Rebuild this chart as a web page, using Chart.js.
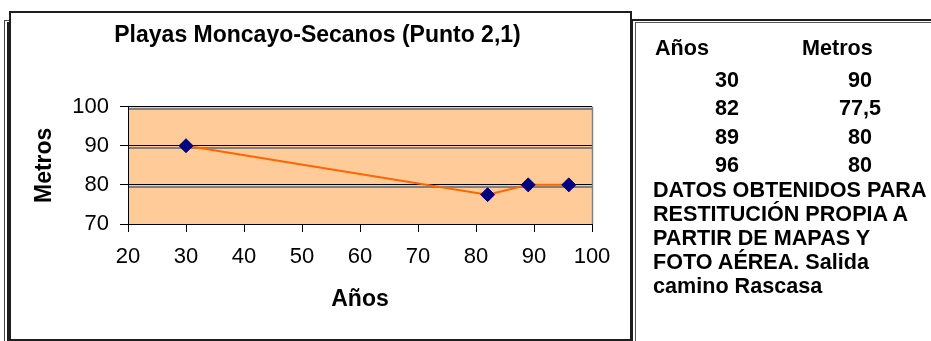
<!DOCTYPE html>
<html>
<head>
<meta charset="utf-8">
<script src="https://cdn.jsdelivr.net/npm/chart.js@4/dist/chart.umd.min.js"></script>
<style>
  html, body { margin: 0; padding: 0; background: #fff; }
  #wrap { position: relative; width: 931px; height: 341px; overflow: hidden; font-family: 'Liberation Sans', Arial, sans-serif; }
  #c { position: absolute; left: 0; top: 0; }
  .ln { position: absolute; background: #1e1e1e; }
  .frame { position: absolute; box-sizing: border-box; border: 2px solid #1e1e1e; }
  .t { position: absolute; font-weight: bold; font-size: 21.6px; line-height: 24px; color: #000; white-space: nowrap; }
</style>
</head>
<body>
<div id="wrap">
  <canvas id="c" width="931" height="341"></canvas>
  <!-- left cell border (double line) -->
  <div class="ln" style="left:4px;top:20px;width:1px;height:321px;background:#444"></div>
  <div class="ln" style="left:7px;top:22px;width:2px;height:319px"></div>
  <div class="ln" style="left:4px;top:20px;width:6px;height:1px;background:#444"></div>
  <!-- chart frame -->
  <div class="frame" style="left:9px;top:11px;width:623px;height:330px"></div>
  <!-- notes panel border (double line) -->
  <div class="ln" style="left:631px;top:19px;width:300px;height:2px"></div>
  <div class="ln" style="left:631px;top:19px;width:2px;height:322px"></div>
  <div class="ln" style="left:635px;top:22px;width:296px;height:1px;background:#555"></div>
  <div class="ln" style="left:635px;top:22px;width:1px;height:319px;background:#555"></div>
</div>
<script>
// Survey points: year (two digits) and shoreline distance in metres
const years  = [30, 82, 89, 96];
const metros = [90, 77.5, 80, 80];

// Axis ticks
const xTicks = [20, 30, 40, 50, 60, 70, 80, 90, 100];
const yTicks = [70, 80, 90, 100];

// Texts
const titleText = 'Playas Moncayo-Secanos (Punto 2,1)';
const xTitle = 'Años';
const yTitle = 'Metros';
const colHeads = ['Años', 'Metros'];
const noteLines = [
  'DATOS OBTENIDOS PARA',
  'RESTITUCIÓN PROPIA A',
  'PARTIR DE MAPAS Y',
  'FOTO AÉREA. Salida',
  'camino Rascasa'
];

const FONT = "'Liberation Sans', Arial, sans-serif";

// Orange plot background, grid shadow lines and plot right edge
const plotArea = {
  id: 'plotArea',
  beforeDraw(chart) {
    const { ctx, chartArea: a } = chart;
    ctx.save();
    ctx.fillStyle = '#FFCC99';
    ctx.fillRect(a.left, a.top, a.right - a.left, a.bottom - a.top);
    ctx.restore();
  },
  beforeDatasetsDraw(chart) {
    const { ctx, chartArea: a, scales: { y } } = chart;
    ctx.save();
    ctx.strokeStyle = '#808080';
    ctx.lineWidth = 2;
    y.ticks.forEach(t => {
      if (t.value === y.min) return;
      const py = Math.round(y.getPixelForValue(t.value)) + 2;
      ctx.beginPath();
      ctx.moveTo(a.left + 1, py);
      ctx.lineTo(a.right, py);
      ctx.stroke();
    });
    ctx.lineWidth = 1.5;
    ctx.beginPath();
    ctx.moveTo(a.right + 0.5, a.top);
    ctx.lineTo(a.right + 0.5, a.bottom);
    ctx.stroke();
    ctx.restore();
  }
};

new Chart(document.getElementById('c'), {
  type: 'line',
  data: {
    datasets: [{
      data: years.map((x, i) => ({ x: x, y: metros[i] })),
      borderColor: '#FF6600',
      borderWidth: 2,
      tension: 0,
      pointStyle: 'rectRot',
      pointRadius: 7,
      pointBackgroundColor: '#000080',
      pointBorderColor: '#000080',
      pointBorderWidth: 1
    }]
  },
  options: {
    responsive: false,
    animation: false,
    devicePixelRatio: 1,
    layout: { padding: { left: 43, right: 339, top: 0, bottom: 1 } },
    plugins: {
      legend: { display: false },
      tooltip: { enabled: false },
      title: {
        display: true,
        text: titleText,
        color: '#000',
        font: { family: FONT, size: 23, weight: 'bold' },
        padding: { top: 22, bottom: 57 }
      }
    },
    scales: {
      x: {
        type: 'linear',
        min: xTicks[0],
        max: xTicks[xTicks.length - 1],
        afterBuildTicks: s => { s.ticks = xTicks.map(v => ({ value: v })); },
        afterFit: s => { s.height = 116; },
        border: { color: '#000', width: 1 },
        grid: { drawOnChartArea: false, tickLength: 8, tickColor: '#000' },
        ticks: { color: '#000', font: { family: FONT, size: 22 }, padding: 12, maxRotation: 0, autoSkip: false },
        title: {
          display: true, text: xTitle, color: '#000',
          font: { family: FONT, size: 23, weight: 'bold' },
          padding: { top: 0, bottom: 27 }
        }
      },
      y: {
        type: 'linear',
        min: yTicks[0],
        max: yTicks[yTicks.length - 1],
        afterBuildTicks: s => { s.ticks = yTicks.map(v => ({ value: v })); },
        afterFit: s => { s.width = 85; },
        border: { color: '#000', width: 1 },
        grid: {
          color: c => (c.tick && c.tick.value === yTicks[0]) ? 'rgba(0,0,0,0)' : '#000',
          lineWidth: 1, tickLength: 8, tickColor: '#000'
        },
        ticks: { color: '#000', font: { family: FONT, size: 22 }, padding: 11 },
        title: {
          display: true, text: yTitle, color: '#000',
          font: { family: FONT, size: 23, weight: 'bold' },
          padding: { top: -12, bottom: 0 }
        }
      }
    }
  },
  plugins: [plotArea]
});

// Data table and notes beside the chart
const wrap = document.getElementById('wrap');
function addText(txt, x, cy, centered) {
  const d = document.createElement('div');
  d.className = 't';
  d.textContent = txt;
  d.style.top = (cy - 12) + 'px';
  if (centered) {
    d.style.left = (x - 60) + 'px';
    d.style.width = '120px';
    d.style.textAlign = 'center';
  } else {
    d.style.left = x + 'px';
  }
  wrap.appendChild(d);
}
const fmt = v => String(v).replace('.', ',');
addText(colHeads[0], 655, 48, false);
addText(colHeads[1], 802, 48, false);
years.forEach((yr, i) => {
  const cy = 80 + i * 28.3;
  addText(fmt(yr), 727, cy, true);
  addText(fmt(metros[i]), 860, cy, true);
});
noteLines.forEach((line, i) => addText(line, 653, 190 + i * 24, false));
</script>
</body>
</html>
